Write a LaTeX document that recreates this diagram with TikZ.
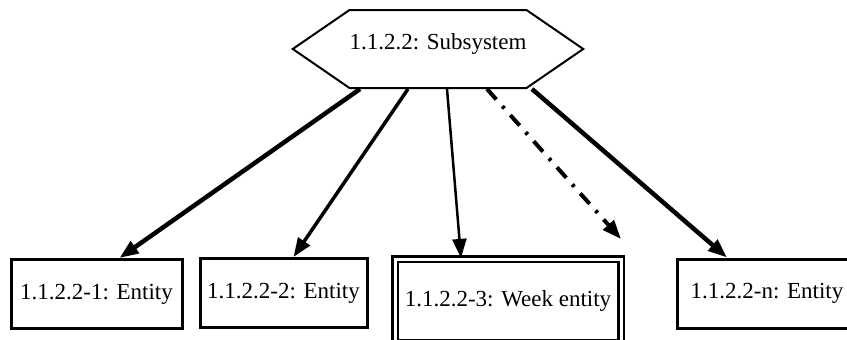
\documentclass[tikz,border=0pt]{standalone}
\usepackage{fontspec}
\setmainfont{Liberation Serif}
\usetikzlibrary{positioning, arrows.meta, calc, shapes.symbols}

\begin{document}
\begin{tikzpicture}[x=1pt, y=-1pt,
    every node/.style={font=\fontsize{23}{27}\selectfont, inner sep=0pt},
    subsys/.style={draw, line width=2pt, signal, signal to=west and east,
        signal pointer angle=69, minimum width=290pt, minimum height=78pt, text depth=14pt},
    entity/.style={draw, line width=3pt, minimum height=69pt},
    weakentity/.style={draw, double, line width=2.2pt, double distance=3pt, minimum height=84pt},
    link/.style={-{Triangle[length=19pt, width=14pt]}}]
    \useasboundingbox (0,0) rectangle (847,340);

    % subsystem on top
    \node[subsys] (sub) at (438,49) {1.1.2.2: Subsystem};

    % entities in the bottom row
    \node[entity, minimum width=171pt] (ent1) at (96.5,294) {1.1.2.2-1: Entity};
    \node[entity, minimum width=167pt] (ent2) at (283.5,293) {1.1.2.2-2: Entity};
    \node[weakentity, minimum width=226pt] (ent3) at (508,301) {1.1.2.2-3: Week entity};
    \node[entity, minimum width=180pt] (entn) at (767,293.5) {1.1.2.2-n: Entity};
    \coordinate (more) at (621,239);

    % links
    \draw[link, line width=4.5pt] ([xshift=-78pt]sub.south) -- ([xshift=23pt]ent1.north);
    \draw[link, line width=3.5pt] ([xshift=-30pt]sub.south) -- ([xshift=10pt]ent2.north);
    \draw[link, line width=2.5pt] ([xshift=9pt]sub.south) -- ([xshift=-47pt]ent3.north);
    \draw[link, line width=4pt, dash pattern=on 14pt off 9pt on 3pt off 9pt] ([xshift=49pt]sub.south) -- (more);
    \draw[link, line width=4.5pt] ([xshift=94pt]sub.south) -- ([xshift=-40pt]entn.north);
\end{tikzpicture}
\end{document}
